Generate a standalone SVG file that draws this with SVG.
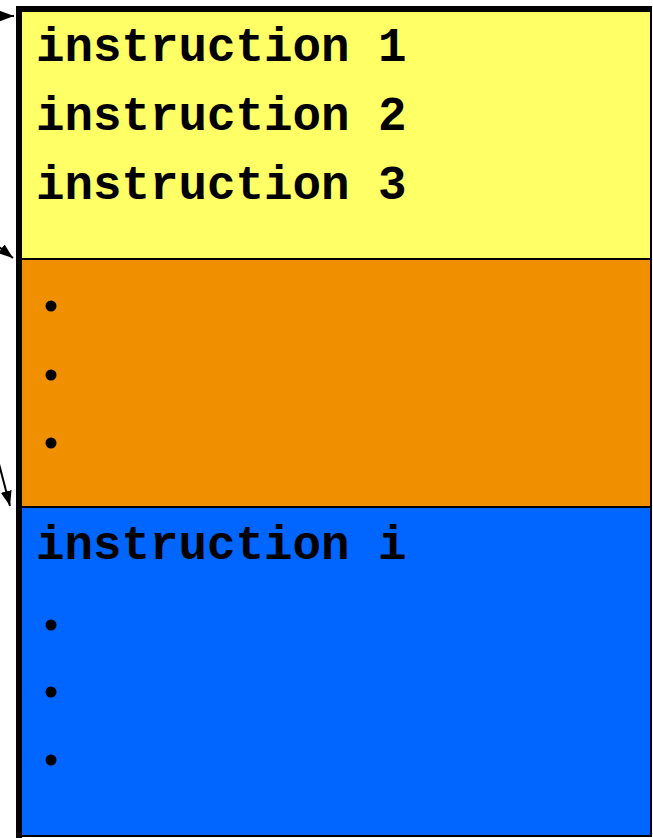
<svg xmlns="http://www.w3.org/2000/svg" width="653" height="838" viewBox="0 0 653 838">
<style>
.t{font-family:"Liberation Mono","Courier New",monospace;font-weight:bold;font-size:47.5px;fill:#000}
.b{stroke:#000;stroke-width:2}
.c{stroke:#000;stroke-width:2;fill:none}
</style>
<defs>
<marker id="ah" markerWidth="15" markerHeight="11" refX="15" refY="5.5" orient="auto" markerUnits="userSpaceOnUse" viewBox="0 0 15 11">
<path d="M0,0 L15,5.5 L0,11 Z" fill="#000"/>
</marker>
</defs>
<g id="block1">
<rect x="19" y="9" width="632" height="250" fill="#FFFF66" class="b"/>
<text class="t" x="36" y="61">instruction 1</text>
<text class="t" x="36" y="130">instruction 2</text>
<text class="t" x="36" y="199">instruction 3</text>
</g>
<g id="block2">
<rect x="19" y="259" width="632" height="248" fill="#F09000" class="b"/>
<circle cx="51" cy="306" r="5.5"/>
<circle cx="51" cy="375" r="5.5"/>
<circle cx="51" cy="443" r="5.5"/>
</g>
<g id="block3">
<rect x="19" y="507" width="632" height="329" fill="#0066FF" class="b"/>
<text class="t" x="36" y="559">instruction i</text>
<circle cx="51" cy="625" r="5.5"/>
<circle cx="51" cy="692" r="5.5"/>
<circle cx="51" cy="760" r="5.5"/>
</g>
<g id="frame">
<rect x="16" y="6" width="6" height="832" fill="#000"/>
<rect x="16" y="6" width="636" height="6" fill="#000"/>
</g>
<g id="connectors">
<line class="c" x1="-20" y1="16" x2="14" y2="16" marker-end="url(#ah)"/>
<line class="c" x1="-10" y1="240" x2="13" y2="258" marker-end="url(#ah)"/>
<line class="c" x1="-2" y1="460" x2="10" y2="506" marker-end="url(#ah)"/>
</g>
</svg>
